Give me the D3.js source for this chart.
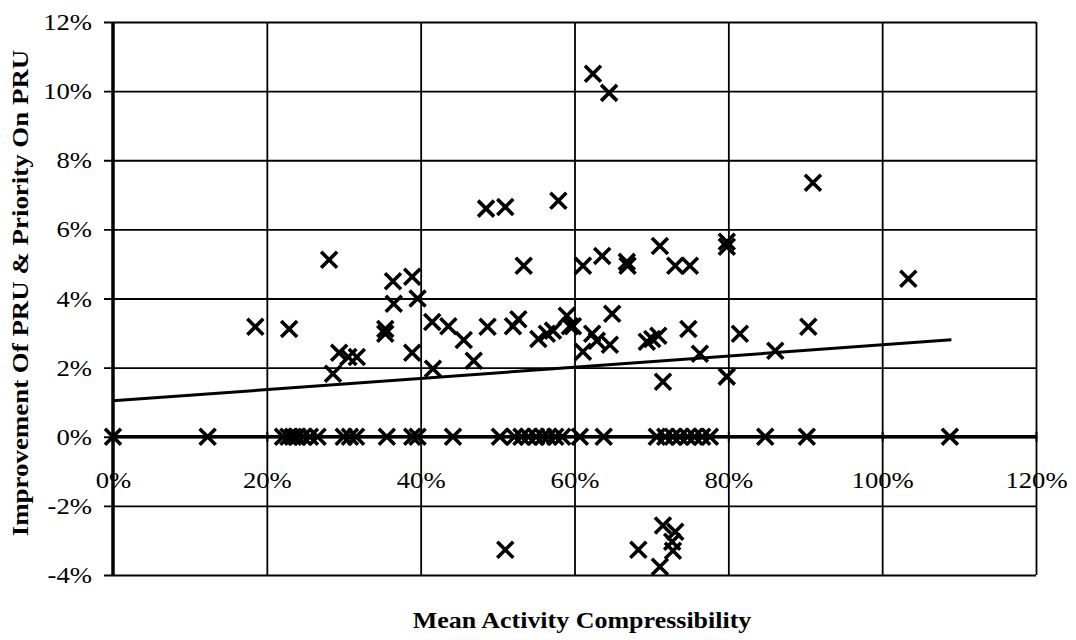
<!DOCTYPE html>
<html>
<head>
<meta charset="utf-8">
<script src="https://cdn.jsdelivr.net/npm/d3@7"></script>
<style>
  body { margin: 0; background: #fff; }
  text { font-family: "Liberation Serif", "Times New Roman", serif; fill: #000; }
</style>
</head>
<body>
<div id="chart"></div>
<script>
// scatter points that are not on the zero line (x = compressibility %, y = improvement %)
var pointX = [18.5, 22.9, 28.1, 28.6, 29.4, 30.6, 31.7, 35.4, 35.4, 36.4, 36.5, 38.9, 38.9, 39.6,
  41.5, 41.6, 43.6, 45.6, 46.9, 48.5, 48.7, 51.0, 51.0, 52.0, 52.7, 53.4, 55.3, 56.4, 57.2, 57.9,
  59.0, 59.4, 59.8, 61.1, 61.1, 62.3, 62.4, 62.9, 63.6, 64.5, 64.6, 64.9, 66.8, 66.9, 68.3, 69.4,
  70.1, 70.9, 71.1, 71.1, 71.5, 71.5, 72.7, 72.8, 73.1, 73.1, 74.8, 75.0, 76.3, 79.8, 79.8, 79.8,
  81.5, 86.1, 90.4, 91.0, 103.4]
var pointY = [3.18, 3.12, 5.12, 1.82, 2.43, 2.31, 2.31, 3.12, 2.98, 4.5, 3.85, 4.63, 2.43, 4.0,
  3.32, 1.97, 3.2, 2.8, 2.2, 6.6, 3.18, 6.65, -3.27, 3.2, 3.4, 4.95, 2.83, 2.98, 3.07, 6.83,
  3.5, 3.2, 3.2, 4.95, 2.46, 2.98, 10.5, 2.78, 5.23, 9.95, 2.66, 3.56, 5.06, 4.95, -3.27, 2.75,
  2.83, 2.92, 5.52, -3.76, 1.59, -2.57, -3.04, -3.3, -2.75, 4.95, 3.12, 4.95, 2.4, 5.64, 5.5, 1.74,
  2.98, 2.49, 3.18, 7.35, 4.57]

// points sitting on 0% improvement
var zeroRowX = [0, 12.3, 22.1, 22.8, 23.4, 24.0, 24.7, 25.6, 26.6, 30.0, 30.8, 31.6, 35.6, 38.9,
  39.6, 44.2, 50.3, 52.2, 53.1, 54.0, 55.0, 55.9, 56.6, 57.5, 58.4, 60.7, 63.8, 70.7, 71.8, 72.8,
  73.7, 74.7, 75.6, 76.6, 77.6, 84.8, 90.2, 108.8]

// linear trend line
var trendX = [0, 109]
var trendIntercept = 1.04
var trendSlope = 0.0162

var xTicks = [0, 20, 40, 60, 80, 100, 120]
var yTicks = [-4, -2, 0, 2, 4, 6, 8, 10, 12]

var width = 1076,
    height = 640,
    plotLeft = 113, plotRight = 1036, plotTop = 22, plotBottom = 575,
    stretch = 1.16,
    fontSize = 23;

var x = d3.scaleLinear().domain([0, 120]).range([plotLeft, plotRight]);
var y = d3.scaleLinear().domain([-4, 12]).range([plotBottom, plotTop]);

var svg = d3.select("#chart")
  .append("svg")
  .attr("width", width)
  .attr("height", height);

// horizontal grid + cross ticks on the y axis
var yGrid = svg.append("g")
  .attr("transform", "translate(" + plotLeft + ",0)")
  .call(d3.axisLeft(y).tickValues(yTicks).tickSize(-(plotRight - plotLeft)).tickFormat(""));
yGrid.select(".domain").remove();
yGrid.selectAll("line")
  .attr("x1", -9)
  .attr("stroke", "#000")
  .attr("stroke-width", 1.8);

// vertical grid
var xGrid = svg.append("g")
  .attr("transform", "translate(0," + plotBottom + ")")
  .call(d3.axisBottom(x).tickValues(xTicks.slice(1)).tickSize(-(plotBottom - plotTop)).tickFormat(""));
xGrid.select(".domain").remove();
xGrid.selectAll("line")
  .attr("stroke", "#000")
  .attr("stroke-width", 1.8);

// zero line (x axis) with small cross ticks
var xAxis = svg.append("g")
  .attr("transform", "translate(0," + y(0) + ")")
  .call(d3.axisBottom(x).tickValues(xTicks).tickSize(5).tickFormat(d => d + "%"));
xAxis.select(".domain")
  .attr("d", "M" + plotLeft + ",0H" + plotRight)
  .attr("stroke", "#000")
  .attr("stroke-width", 3.5);
xAxis.selectAll(".tick line")
  .attr("y1", -5)
  .attr("stroke", "#000")
  .attr("stroke-width", 2);
xAxis.selectAll(".tick text")
  .attr("y", 0)
  .attr("dy", 0)
  .attr("transform", "translate(0,51) scale(" + stretch + ",1)")
  .style("font-size", fontSize + "px");

// y axis line and labels
var yAxis = svg.append("g")
  .attr("transform", "translate(" + plotLeft + ",0)")
  .call(d3.axisLeft(y).tickValues(yTicks).tickSize(0).tickPadding(0).tickFormat(d => d + "%"));
yAxis.select(".domain")
  .attr("d", "M0," + plotTop + "V" + plotBottom)
  .attr("stroke", "#000")
  .attr("stroke-width", 3.5);
yAxis.selectAll(".tick text")
  .attr("x", 0)
  .attr("dy", "0.33em")
  .attr("transform", "translate(-21,0) scale(" + stretch + ",1)")
  .style("font-size", fontSize + "px");

// trend line
svg.append("path")
  .datum(trendX)
  .attr("fill", "none")
  .attr("stroke", "#000")
  .attr("stroke-width", 3)
  .attr("d", d3.line()
    .x(d => x(d))
    .y(d => y(trendIntercept + trendSlope * d)));

// cross markers
var points = pointX.map((d, i) => [d, pointY[i]])
  .concat(zeroRowX.map(d => [d, 0]));
var s = 8;
svg.append("g")
  .selectAll("path")
  .data(points)
  .enter()
  .append("path")
  .attr("transform", d => "translate(" + x(d[0]) + "," + y(d[1]) + ")")
  .attr("d", "M" + -s + "," + -s + "L" + s + "," + s + "M" + -s + "," + s + "L" + s + "," + -s)
  .attr("stroke", "#000")
  .attr("stroke-width", 3.6)
  .attr("fill", "none");

// axis titles
svg.append("text")
  .attr("transform", "translate(582,628) scale(1.13,1)")
  .attr("text-anchor", "middle")
  .style("font-size", fontSize + "px")
  .style("font-weight", "bold")
  .text("Mean Activity Compressibility");

svg.append("text")
  .attr("transform", "translate(28,293) rotate(-90) scale(1.17,1)")
  .attr("text-anchor", "middle")
  .style("font-size", fontSize + "px")
  .style("font-weight", "bold")
  .text("Improvement Of PRU & Priority On PRU");
</script>
</body>
</html>
